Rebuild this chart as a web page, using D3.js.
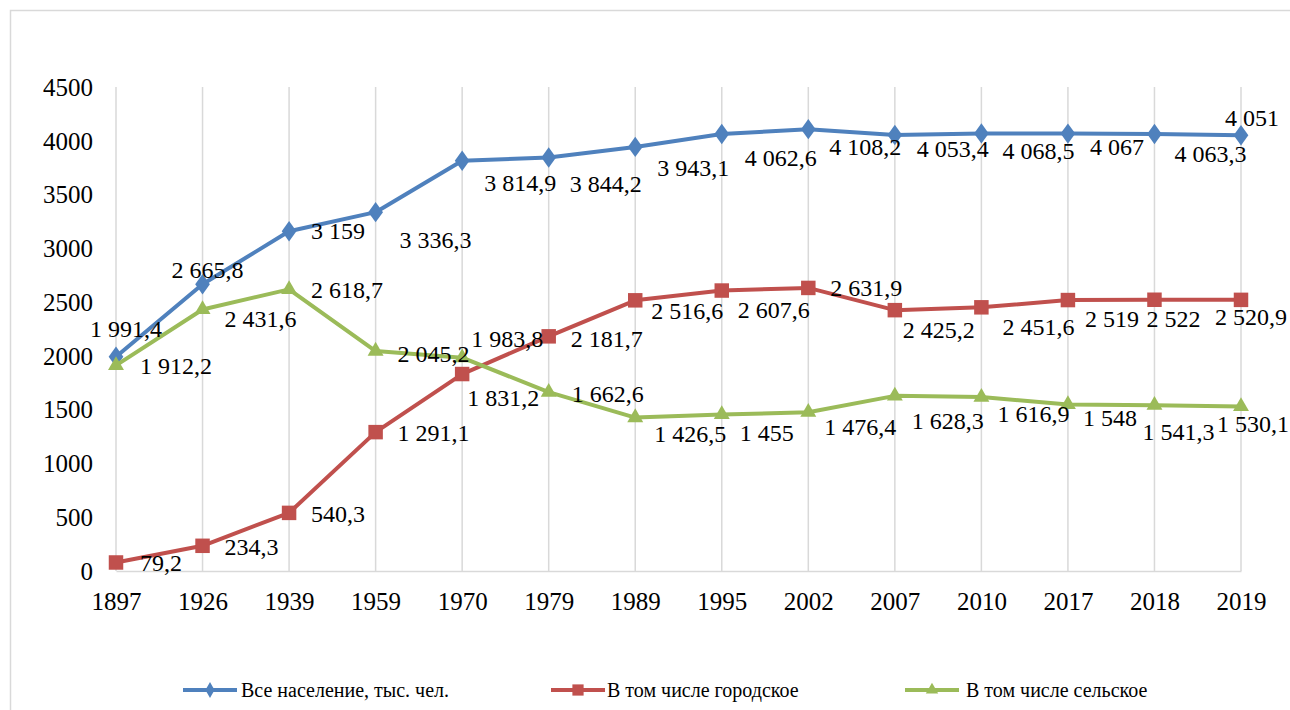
<!DOCTYPE html>
<html>
<head>
<meta charset="utf-8">
<script src="https://cdn.jsdelivr.net/npm/d3@7"></script>
<style>
  body { margin: 0; background: #fff; }
</style>
</head>
<body>
<div id="chart"></div>
<script>
// годы переписей
const years = ["1897", "1926", "1939", "1959", "1970", "1979", "1989", "1995", "2002", "2007", "2010", "2017", "2018", "2019"];

// тыс. чел.
const totalPop = [1991.4, 2665.8, 3159, 3336.3, 3814.9, 3844.2, 3943.1, 4062.6, 4108.2, 4053.4, 4068.5, 4067, 4063.3, 4051];
const urbanPop = [79.2, 234.3, 540.3, 1291.1, 1831.2, 2181.7, 2516.6, 2607.6, 2631.9, 2425.2, 2451.6, 2519, 2522, 2520.9];
const ruralPop = [1912.2, 2431.6, 2618.7, 2045.2, 1983.8, 1662.6, 1426.5, 1455, 1476.4, 1628.3, 1616.9, 1548, 1541.3, 1530.1];

const yTicks = [0, 500, 1000, 1500, 2000, 2500, 3000, 3500, 4000, 4500];

const seriesNames = ["Все население, тыс. чел.", "В том числе городское", "В том числе сельское"];

// сдвиги подписей данных (как их расставили вручную в Excel)
const totalDx = [-26, -31, 22, 24, 22, 21, 22, 23, 21, 22, 21, 22, 20, -16];
const totalDy = [-28, -14, 0, 28, 22, 27, 21, 24, 18, 14, 18, 14, 20, -17];
const urbanDx = [24, 22, 22, 22, 5, 22, 16, 16, 22, 8, 21, 17, -8, -26];
const urbanDy = [1, 1, 1, 1, 24, 3, 11, 20, 0, 20, 20, 19, 19, 17];
const ruralDx = [24, 22, 22, 22, 9, 23, 19, 18, 16, 17, 16, 15, -12, -24];
const ruralDy = [1, 10, 1, 3, -19, 2, 17, 19, 15, 25, 17, 14, 27, 18];

const FONT = "'Liberation Serif', Tinos, 'Times New Roman', 'DejaVu Serif', serif";
const W = 1290, H = 710;
const plotLeft = 116, plotRight = 1241, plotTop = 87, plotBottom = 571;

const svg = d3.select("#chart").append("svg")
  .attr("width", W)
  .attr("height", H)
  .attr("font-family", FONT);

svg.append("rect").attr("width", W).attr("height", H).attr("fill", "#fff");

// рамка области диаграммы (обрезана справа и снизу)
svg.append("rect")
  .attr("x", 10.5).attr("y", 10.5)
  .attr("width", 1300).attr("height", 720)
  .attr("fill", "none")
  .attr("stroke", "#d9d9d9")
  .attr("stroke-width", 1.5);

const x = d3.scalePoint().domain(years).range([plotLeft, plotRight]);
const y = d3.scaleLinear().domain([0, 4500]).range([plotBottom, plotTop]);

// вертикальная сетка
svg.append("g")
  .selectAll("line")
  .data(years)
  .join("line")
  .attr("x1", d => x(d)).attr("x2", d => x(d))
  .attr("y1", y(4500)).attr("y2", y(0))
  .attr("stroke", "#d9d9d9")
  .attr("stroke-width", 1.5);

// ось X
const xAxis = svg.append("g")
  .attr("transform", `translate(0,${y(0)})`)
  .call(d3.axisBottom(x).tickSize(0));
xAxis.attr("font-family", FONT).attr("font-size", 25);
xAxis.select(".domain").attr("stroke", "#d9d9d9").attr("stroke-width", 1.5);
xAxis.selectAll("text").attr("fill", "#000").attr("dy", "0.33em").attr("y", 31);

// ось Y
const yAxis = svg.append("g")
  .attr("transform", `translate(${plotLeft},0)`)
  .call(d3.axisLeft(y).tickValues(yTicks).tickSize(0).tickPadding(23).tickFormat(d3.format("d")));
yAxis.attr("font-family", FONT).attr("font-size", 25);
yAxis.select(".domain").remove();
yAxis.selectAll("text").attr("fill", "#000").attr("dy", "0.33em");

const fmt = v => {
  // 4 068,5 — пробел для тысяч, запятая для дробной части
  let s = String(v).split(".");
  let int = s[0].replace(/\B(?=(\d{3})+(?!\d))/g, " ");
  return s.length > 1 ? int + "," + s[1] : int;
};

const series = [
  { name: seriesNames[0], values: totalPop, color: "#4f81bd", symbol: d3.symbolDiamond, size: 120, dx: totalDx, dy: totalDy },
  { name: seriesNames[1], values: urbanPop, color: "#c0504d", symbol: d3.symbolSquare, size: 210, dx: urbanDx, dy: urbanDy },
  { name: seriesNames[2], values: ruralPop, color: "#9bbb59", symbol: d3.symbolTriangle, size: 110, dx: ruralDx, dy: ruralDy }
];

const line = d3.line()
  .x((d, i) => x(years[i]))
  .y(d => y(d));

series.forEach(s => {
  const g = svg.append("g");
  g.append("path")
    .datum(s.values)
    .attr("d", line)
    .attr("fill", "none")
    .attr("stroke", s.color)
    .attr("stroke-width", 4)
    .attr("stroke-linejoin", "round");

  g.selectAll("path.mark")
    .data(s.values)
    .join("path")
    .attr("class", "mark")
    .attr("d", d3.symbol().type(s.symbol).size(s.size))
    .attr("transform", (d, i) => {
      let sx = s.symbol === d3.symbolDiamond ? "scale(1.25,1)" : "";
      return `translate(${x(years[i])},${y(d)}) ${sx}`;
    })
    .attr("fill", s.color);
});

// подписи данных
series.forEach(s => {
  svg.append("g")
    .selectAll("text")
    .data(s.values)
    .join("text")
    .attr("x", (d, i) => x(years[i]) + s.dx[i])
    .attr("y", (d, i) => y(d) + s.dy[i])
    .attr("dy", "0.33em")
    .attr("font-size", 24)
    .text(d => fmt(d));
});

// легенда
const legendX = [183, 551, 905];
const legendTextX = [58, 56, 61];
const legend = svg.append("g");
series.forEach((s, i) => {
  const lg = legend.append("g").attr("transform", `translate(${legendX[i]},690)`);
  lg.append("line")
    .attr("x1", 0).attr("x2", 54)
    .attr("stroke", s.color).attr("stroke-width", 4);
  lg.append("path")
    .attr("d", d3.symbol().type(s.symbol).size(s.size * 0.6))
    .attr("transform", `translate(27,0)`)
    .attr("fill", s.color);
  lg.append("text")
    .attr("x", legendTextX[i])
    .attr("dy", "0.35em")
    .attr("font-size", 20)
    .text(s.name);
});
</script>
</body>
</html>
